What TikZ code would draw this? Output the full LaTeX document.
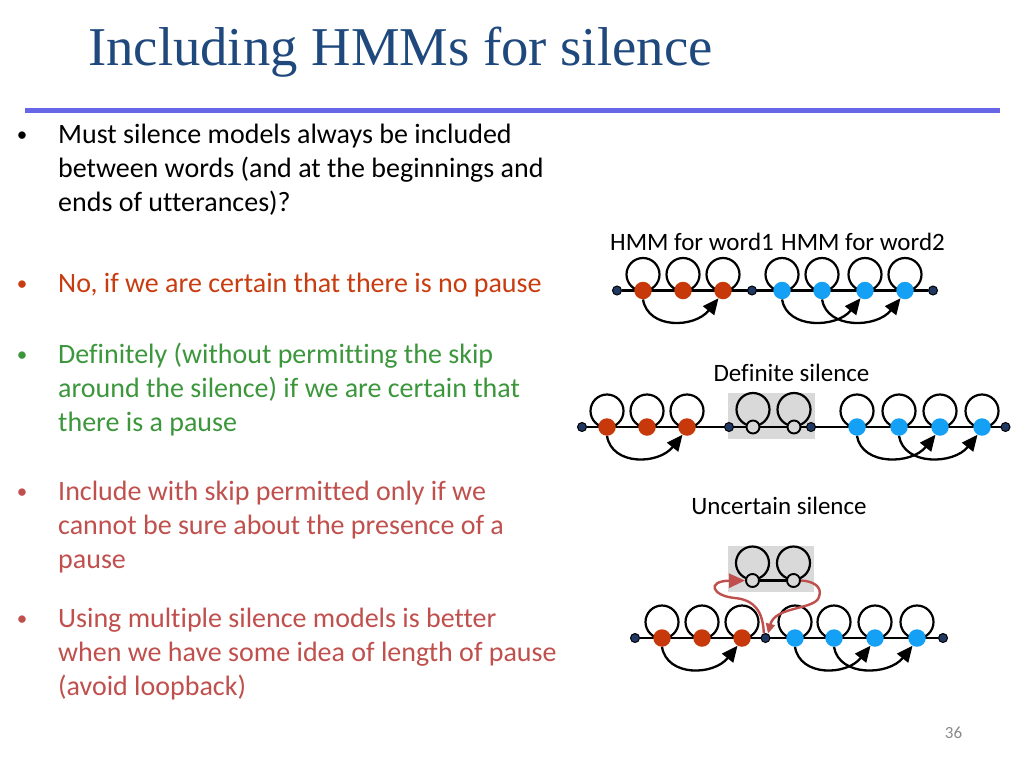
\documentclass[tikz,border=0pt]{standalone}
\usepackage{fontspec}
\setmainfont[Ligatures=NoCommon]{Carlito}
\newfontfamily\titlefont{Liberation Serif}
\usetikzlibrary{arrows.meta,backgrounds}
\definecolor{titleblue}{RGB}{31,73,125}
\definecolor{rulecol}{RGB}{102,102,230}
\definecolor{txtred}{RGB}{200,60,15}
\definecolor{txtgreen}{RGB}{60,150,60}
\definecolor{txtbrick}{RGB}{192,80,77}
\definecolor{stred}{RGB}{199,57,11}
\definecolor{stblue}{RGB}{20,160,245}
\definecolor{dotnavy}{RGB}{31,56,100}
\definecolor{silgray}{RGB}{217,217,217}
\definecolor{pagegray}{RGB}{137,137,137}
\tikzset{
 body/.style={anchor=base west, inner sep=0pt, font=\fontsize{28}{34}\selectfont},
 bul/.style={anchor=base, inner sep=0pt, font=\fontsize{21}{34}\selectfont},
 lab/.style={anchor=base, inner sep=0pt, font=\fontsize{25}{30}\selectfont},
 hst/.style={circle, inner sep=0pt, minimum size=17.5pt},
 redst/.style={hst, fill=stred},
 bluest/.style={hst, fill=stblue},
 dotst/.style={circle, inner sep=0pt, minimum size=9pt, fill=dotnavy, draw=black, line width=1pt},
 silst/.style={circle, inner sep=0pt, minimum size=13pt, fill=silgray, draw=black, line width=1.9pt},
 silbox/.style={rectangle, inner sep=0pt, fill=silgray, draw=none},
 wire/.style={line width=2.3pt, black},
 loopc/.style={line width=2.2pt, black},
 skiparrow/.style={line width=2.3pt, black, -{Triangle[length=16pt,width=14pt]}},
 silarrow/.style={line width=2.4pt, txtbrick},
}
\newcommand\hmmloop[2]{\draw[loopc] ([yshift=#2pt]#1.center) circle[radius=16.5pt];}
\newcommand\skiparc[2]{\draw[skiparrow] (#1.south) .. controls +(5,-30) and +(-24,-30) .. (#2.240);}
\begin{document}
\begin{tikzpicture}[x=1pt,y=1pt]
\useasboundingbox (0,0) rectangle (1024,-768);
% title
\node[anchor=base west, inner sep=0pt, font=\titlefont\fontsize{54.7}{60}\selectfont, text=titleblue] (title) at (88,-65.5) {Including HMMs for silence};
\coordinate (ruleL) at (25,-110.5);
\coordinate (ruleR) at (1000,-110.5);
\draw[rulecol, line width=4.5pt] (ruleL) -- (ruleR);
% bullets
\node[bul] (u1) at (22,-141) {•};
\node[body] (t1a) at (58,-143) {Must silence models always be included};
\node[body] (t1b) at (58,-177) {between words (and at the beginnings and};
\node[body] (t1c) at (58,-211) {ends of utterances)?};
\node[bul, text=txtred] (u2) at (22,-290) {•};
\node[body, text=txtred] (t2a) at (58,-292) {No, if we are certain that there is no pause};
\node[bul, text=txtgreen] (u3) at (22,-361) {•};
\node[body, text=txtgreen] (t3a) at (58,-363) {Definitely (without permitting the skip};
\node[body, text=txtgreen] (t3b) at (58,-397) {around the silence) if we are certain that};
\node[body, text=txtgreen] (t3c) at (58,-431) {there is a pause};
\node[bul, text=txtbrick] (u4) at (22,-498) {•};
\node[body, text=txtbrick] (t4a) at (58,-500) {Include with skip permitted only if we};
\node[body, text=txtbrick] (t4b) at (58,-534) {cannot be sure about the presence of a};
\node[body, text=txtbrick] (t4c) at (58,-568) {pause};
\node[bul, text=txtbrick] (u5) at (22,-625) {•};
\node[body, text=txtbrick] (t5a) at (58,-627) {Using multiple silence models is better};
\node[body, text=txtbrick] (t5b) at (58,-661) {when we have some idea of length of pause};
\node[body, text=txtbrick] (t5c) at (58,-695) {(avoid loopback)};
\node[anchor=base, inner sep=0pt, font=\fontsize{17}{20}\selectfont, text=pagegray] (pg) at (953.5,-738) {36};
% labels
\node[lab] (l1) at (692,-250) {HMM for word1};
\node[lab] (l2) at (863,-250) {HMM for word2};
\node[lab] (l3) at (791.5,-381) {Definite silence};
\node[lab] (l4) at (779,-514) {Uncertain silence};
% diagram 1
\node[dotst] (a1) at (617,-290.5) {};
\node[redst] (a2) at (643,-290.5) {};
\node[redst] (a3) at (683,-290.5) {};
\node[redst] (a4) at (723,-290.5) {};
\node[dotst] (a5) at (752,-290.5) {};
\node[bluest] (a6) at (782,-290.5) {};
\node[bluest] (a7) at (822,-290.5) {};
\node[bluest] (a8) at (865,-290.5) {};
\node[bluest] (a9) at (905,-290.5) {};
\node[dotst] (a10) at (933,-290.5) {};
% diagram 2
\node[dotst] (b1) at (582,-427) {};
\node[redst] (b2) at (607,-427) {};
\node[redst] (b3) at (647,-427) {};
\node[redst] (b4) at (687,-427) {};
\node[dotst] (b5) at (729,-427) {};
\node[silst] (b6) at (753,-427) {};
\node[silst] (b7) at (794,-427) {};
\node[dotst] (b8) at (811,-427) {};
\node[bluest] (b9) at (857,-427) {};
\node[bluest] (b10) at (899,-427) {};
\node[bluest] (b11) at (940,-427) {};
\node[bluest] (b12) at (982,-427) {};
\node[dotst] (b13) at (1005.5,-427) {};
% diagram 3
\node[dotst] (c1) at (635,-638) {};
\node[redst] (c2) at (662,-638) {};
\node[redst] (c3) at (702,-638) {};
\node[redst] (c4) at (742,-638) {};
\node[dotst] (c5) at (765.5,-638) {};
\node[bluest] (c6) at (795,-638) {};
\node[bluest] (c7) at (834,-638) {};
\node[bluest] (c8) at (875,-638) {};
\node[bluest] (c9) at (917,-638) {};
\node[dotst] (c10) at (943,-638) {};
\node[silst] (cs1) at (752.5,-580.5) {};
\node[silst] (cs2) at (793.5,-580.5) {};
% background layer
\begin{scope}[on background layer]
\fill[white] (0,0) rectangle (1024,-768);
\node[silbox, minimum width=87.5pt, minimum height=46pt] (box2) at (771.25,-415.5) {};
\node[silbox, minimum width=86pt, minimum height=45.5pt] (box3) at (770.5,-568.75) {};
\draw[wire] (a1) -- (a10);
\draw[wire] (b1) -- (b13);
\draw[wire] (c1) -- (c10);
\draw[wire] (cs1) -- (cs2);
\foreach \n in {a2,a3,a4,a6,a7,a8,a9,b2,b3,b4,b9,b10,b11,b12,c2,c3,c4,c6,c7,c8,c9}{\hmmloop{\n}{16}}
\foreach \n in {b6,b7,cs1,cs2}{\hmmloop{\n}{17.5}}
\end{scope}
% skip arcs
\skiparc{a2}{a4}
\skiparc{a6}{a8}
\skiparc{a7}{a9}
\skiparc{b2}{b4}
\skiparc{b9}{b11}
\skiparc{b10}{b12}
\skiparc{c2}{c4}
\skiparc{c6}{c8}
\skiparc{c7}{c9}
% silence skip arrows
\draw[silarrow, -{Triangle[length=16pt,width=14pt]}] (c5.110) .. controls (763,-612) and (755,-600) .. (735,-598) .. controls (712,-596) and (706,-581) .. (cs1.west);
\draw[silarrow, -{Triangle[length=10pt,width=9pt]}] (cs2.east) .. controls (812,-581) and (823,-586) .. (819,-597) .. controls (815,-610) and (775,-606) .. (c5.60);
\end{tikzpicture}
\end{document}
